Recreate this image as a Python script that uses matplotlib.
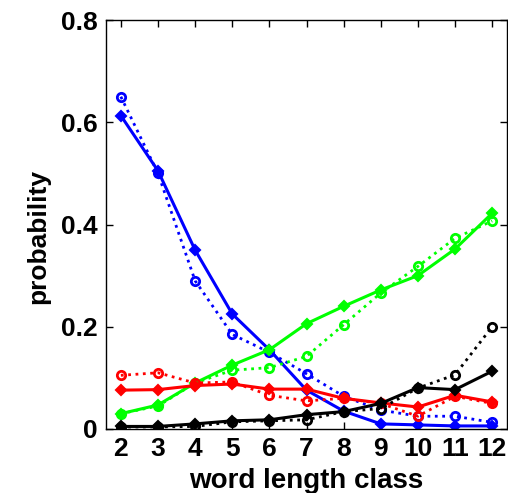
import matplotlib
matplotlib.use("Agg")
import matplotlib.pyplot as plt

# word length classes
classes = [2, 3, 4, 5, 6, 7, 8, 9, 10, 11, 12]

# solid lines (diamonds)
blue_solid = [0.613, 0.505, 0.35, 0.225, 0.155, 0.076, 0.035, 0.01, 0.008, 0.006, 0.006]
green_solid = [0.03, 0.047, 0.09, 0.125, 0.155, 0.206, 0.24, 0.272, 0.30, 0.352, 0.422]
red_solid = [0.076, 0.077, 0.085, 0.088, 0.078, 0.078, 0.06, 0.051, 0.043, 0.066, 0.053]
black_solid = [0.005, 0.005, 0.01, 0.016, 0.018, 0.028, 0.034, 0.05, 0.081, 0.077, 0.113]

# dotted lines (circles)
blue_dotted = [0.65, 0.50, 0.29, 0.185, 0.15, 0.108, 0.064, 0.037, 0.025, 0.025, 0.013]
green_dotted = [0.03, 0.045, 0.09, 0.115, 0.12, 0.142, 0.204, 0.266, 0.318, 0.373, 0.407]
red_dotted = [0.105, 0.11, 0.09, 0.092, 0.066, 0.055, 0.06, 0.05, 0.025, 0.064, 0.05]
black_dotted = [0.004, 0.004, 0.005, 0.014, 0.016, 0.018, 0.034, 0.04, 0.08, 0.106, 0.20]

plt.rcParams['font.family'] = ['Liberation Sans', 'DejaVu Sans']
plt.rcParams['font.weight'] = 'bold'

fig = plt.figure(figsize=(5.08, 4.93), dpi=100)
ax = fig.add_axes([106 / 508, 1 - 429 / 493, 401 / 508, 409 / 493])

series = [
    (blue_solid, blue_dotted, '#0000ff'),
    (green_solid, green_dotted, '#00ff00'),
    (red_solid, red_dotted, '#ff0000'),
    (black_solid, black_dotted, '#000000'),
]
for solid, dotted, col in series:
    ax.plot(classes, dotted, ':', color=col, lw=2, marker='o', ms=6,
            mfc='none', mec=col, mew=2)
    ax.plot(classes, solid, '-', color=col, lw=2.2, marker='D', ms=5,
            mfc=col, mec=col, mew=1.5)

ax.set_xlim(1.6, 12.4)
ax.set_ylim(0, 0.8)
ax.set_xticks(classes)
ax.set_yticks([0, 0.2, 0.4, 0.6, 0.8])
ax.set_yticklabels(['0', '0.2', '0.4', '0.6', '0.8'])
ax.tick_params(direction='in', top=True, right=True, length=5, width=1,
               labelsize=19, pad=6)
for s in ax.spines.values():
    s.set_linewidth(1)
ax.set_xlabel('word length class', fontsize=20, fontweight='bold')
ax.xaxis.set_label_coords(0.5, -0.095, transform=ax.transAxes)
ax.xaxis.label.set_va('top')
ax.set_ylabel('probability', fontsize=19, fontweight='bold')
ax.yaxis.set_label_coords(-0.14, 0.47)

fig.savefig('out.png', dpi=100)
